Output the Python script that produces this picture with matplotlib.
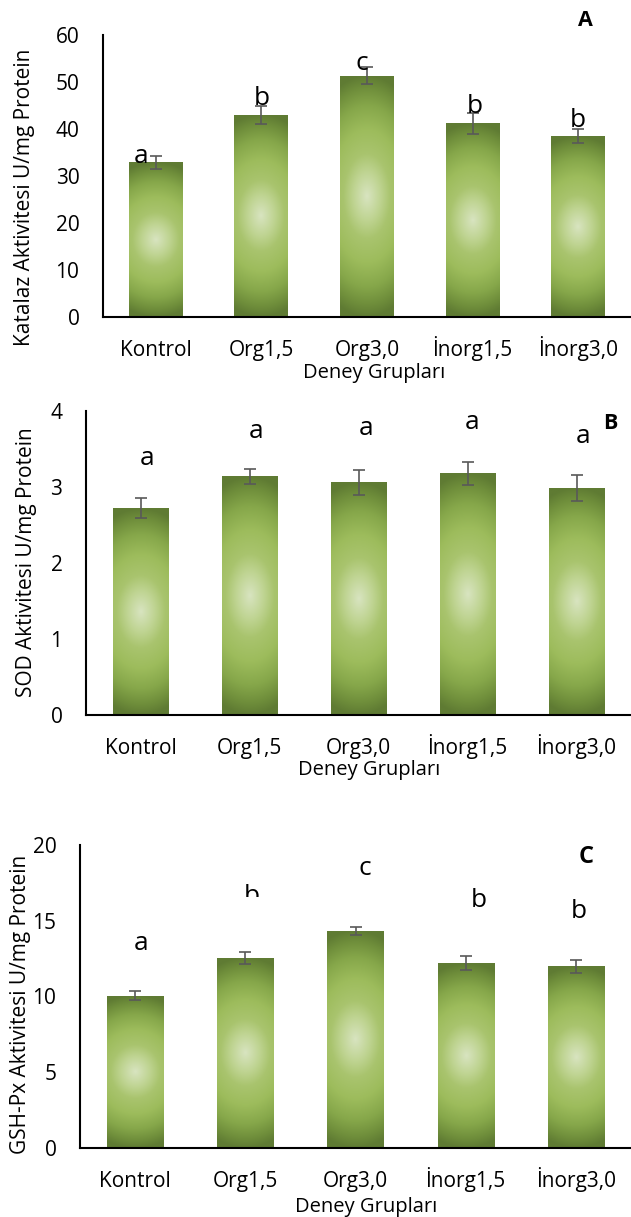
import numpy as np
import matplotlib
matplotlib.use('Agg')
import matplotlib.pyplot as plt
from matplotlib.colors import LinearSegmentedColormap
from matplotlib.patches import Rectangle

plt.rcParams['font.family'] = ['Open Sans', 'DejaVu Sans']

# data
groups = ['Kontrol', 'Org1,5', 'Org3,0', 'İnorg1,5', 'İnorg3,0']

katalaz = [32.9, 43.0, 51.3, 41.2, 38.5]
katalaz_err = [1.4, 1.9, 1.8, 2.3, 1.4]
katalaz_letters = ['a', 'b', 'c', 'b', 'b']

sod = [2.72, 3.14, 3.06, 3.18, 2.99]
sod_err = [0.13, 0.10, 0.17, 0.155, 0.17]
sod_letters = ['a', 'a', 'a', 'a', 'a']

gsh = [10.04, 12.55, 14.33, 12.2, 12.0]
gsh_err = [0.3, 0.38, 0.27, 0.45, 0.44]
gsh_letters = ['a', 'b', 'c', 'b', 'b']

# radial green fill like the excel bars
bar_cmap = LinearSegmentedColormap.from_list('bar', [
    (0.0, '#d8e4c0'), (0.2, '#bfd492'), (0.35, '#a9c46e'), (0.55, '#9dbc5c'),
    (0.75, '#86a74a'), (0.9, '#6f8e3b'), (1.0, '#5f7b33')])
yy, xx = np.mgrid[-1:1:300j, -1:1:80j]
rr = np.clip(np.sqrt((0.4 * xx) ** 2 + yy ** 2), 0, 1)
grad = bar_cmap(rr)

fig = plt.figure(figsize=(6.31, 12.17), dpi=100)


def panel(rect, values, errors, ymax, step, ylabel, letters, let_dx, let_y,
          tag, tag_xy, tag_size, ylab_xy, xlab_xy):
    ax = fig.add_axes(rect)
    x = np.arange(len(groups))
    bars = ax.bar(x, values, width=0.51, color='none', edgecolor='none', zorder=2)
    for b in bars:
        im = ax.imshow(grad, extent=[b.get_x(), b.get_x() + b.get_width(), 0, b.get_height()],
                       aspect='auto', interpolation='bilinear', zorder=2)
        im.set_clip_path(b)
    ax.errorbar(x, values, yerr=errors, fmt='none', ecolor='#595959',
                elinewidth=1.2, capsize=4.3, capthick=1.2, zorder=3)
    ax.set_xlim(-0.5, len(groups) - 0.5)
    ax.set_ylim(0, ymax)
    ax.set_yticks(np.arange(0, ymax + step / 2, step))
    ax.set_xticks(x)
    ax.set_xticklabels(groups, va='baseline')
    ax.tick_params(length=0, labelsize=15)
    ax.tick_params(axis='y', pad=17)
    ax.tick_params(axis='x', pad=28)
    for s in ['top', 'right']:
        ax.spines[s].set_visible(False)
    for s in ['left', 'bottom']:
        ax.spines[s].set_linewidth(1.5)
        ax.spines[s].set_color('black')
    ax.set_ylabel(ylabel, fontsize=15)
    ax.yaxis.set_label_coords(*ylab_xy)
    ax.set_xlabel('Deney Grupları', fontsize=14.5)
    ax.xaxis.set_label_coords(*xlab_xy)
    texts = []
    for i, (lt, dx, ly) in enumerate(zip(letters, let_dx, let_y)):
        texts.append(ax.text(i + dx, ly, lt, ha='center', va='baseline', fontsize=19, zorder=4))
    ax.text(tag_xy[0], tag_xy[1], tag, ha='center', va='center',
            fontsize=tag_size, fontweight='bold')
    return ax, texts


panel([103 / 631, 1 - 317 / 1217, 528 / 631, 282 / 1217], katalaz, katalaz_err, 60, 10,
      'Katalaz Aktivitesi U/mg Protein', katalaz_letters,
      [-0.14, 0.0, -0.05, 0.02, 0.0], [32.7, 45.1, 52.6, 43.5, 40.5],
      'A', (4.07, 63.0), 15.5, (-0.129, 0.424), (0.513, -0.163))

panel([86 / 631, 1 - 715 / 1217, 545 / 631, 304 / 1217], sod, sod_err, 4, 1,
      'SOD Aktivitesi U/mg Protein', sod_letters,
      [0.06, 0.06, 0.07, 0.04, 0.06], [3.29, 3.64, 3.68, 3.76, 3.58],
      'B', (4.31, 3.84), 15.5, (-0.089, 0.503), (0.519, -0.148))

axc, tc = panel([80 / 631, 1 - 1148 / 1217, 551 / 631, 303 / 1217], gsh, gsh_err, 20, 5,
                'GSH-Px Aktivitesi U/mg Protein', gsh_letters,
                [0.05, 0.06, 0.08, 0.12, 0.03], [13.1, 16.2, 18.0, 15.9, 15.2],
                'C', (4.09, 19.24), 17, (-0.0898, 0.475), (0.519, -0.162))
# the second letter in panel C is cut off at the bottom in the original
tc[1].set_clip_on(True)
tc[1].set_clip_path(Rectangle((-0.5, 16.6), 5, 10, transform=axc.transData))

fig.savefig('out.png', dpi=100)
